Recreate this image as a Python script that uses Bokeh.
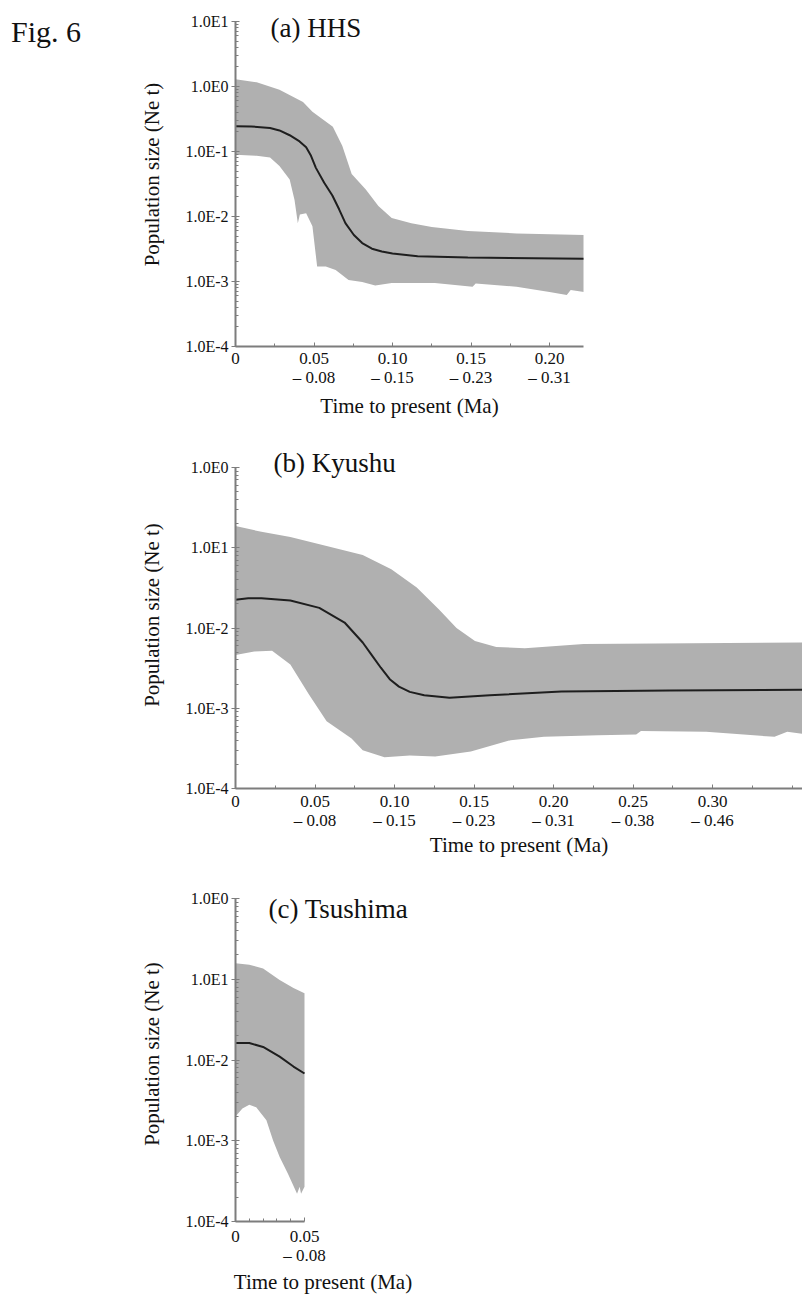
import numpy as np
from bokeh.plotting import figure
from bokeh.layouts import column, row
from bokeh.models import FixedTicker, Label, Div
from bokeh.embed import file_html
from bokeh.resources import INLINE

FONT = "Liberation Serif"

# ---------------- data ----------------
# (a) HHS
hhs_upper_t = [0.0, 0.0135, 0.028, 0.043, 0.049, 0.062, 0.068, 0.074, 0.083, 0.091, 0.0995, 0.112, 0.125, 0.148, 0.179, 0.222]
hhs_upper = [1.29, 1.16, 0.89, 0.58, 0.41, 0.24, 0.123, 0.045, 0.026, 0.0145, 0.0095, 0.0079, 0.0069, 0.0060, 0.0055, 0.0052]
hhs_lower_t = [0.0, 0.0135, 0.022, 0.028, 0.0345, 0.0376, 0.0397, 0.041, 0.045, 0.049, 0.052, 0.0575, 0.0638, 0.072, 0.0807, 0.089, 0.0995, 0.127, 0.151, 0.153, 0.179, 0.200, 0.211, 0.2135, 0.222]
hhs_lower = [0.089, 0.086, 0.081, 0.060, 0.037, 0.018, 0.0079, 0.0107, 0.0112, 0.0071, 0.0017, 0.0017, 0.0015, 0.00105, 0.00098, 0.00087, 0.00095, 0.00095, 0.00083, 0.00093, 0.00083, 0.00069, 0.00062, 0.00074, 0.00069]
hhs_median_t = [0.0, 0.010, 0.022, 0.028, 0.0345, 0.0408, 0.045, 0.0481, 0.0512, 0.0565, 0.0617, 0.066, 0.070, 0.0754, 0.0807, 0.0869, 0.0932, 0.10, 0.116, 0.148, 0.222]
hhs_median = [0.245, 0.243, 0.23, 0.211, 0.178, 0.143, 0.116, 0.086, 0.056, 0.033, 0.021, 0.0129, 0.0079, 0.0052, 0.0039, 0.0032, 0.0029, 0.0027, 0.00245, 0.00234, 0.00224]

# (b) Kyushu
kyu_upper_t = [0.0, 0.0163, 0.0345, 0.0573, 0.080, 0.098, 0.114, 0.128, 0.139, 0.1506, 0.164, 0.182, 0.219, 0.357]
kyu_upper = [0.186, 0.158, 0.136, 0.105, 0.081, 0.054, 0.032, 0.017, 0.010, 0.0069, 0.0058, 0.0056, 0.0063, 0.0066]
kyu_lower_t = [0.0, 0.0118, 0.023, 0.0345, 0.046, 0.0573, 0.073, 0.080, 0.0937, 0.1096, 0.1256, 0.148, 0.173, 0.194, 0.228, 0.252, 0.255, 0.296, 0.339, 0.347, 0.357]
kyu_lower = [0.0046, 0.0051, 0.0052, 0.0035, 0.0015, 0.00069, 0.00042, 0.00030, 0.000245, 0.000257, 0.00025, 0.00029, 0.00040, 0.00044, 0.00046, 0.00047, 0.00052, 0.00051, 0.00044, 0.00051, 0.00048]
kyu_median_t = [0.0, 0.008, 0.0163, 0.0345, 0.0527, 0.0686, 0.080, 0.0857, 0.0914, 0.097, 0.1028, 0.1096, 0.1187, 0.1346, 0.160, 0.205, 0.273, 0.357]
kyu_median = [0.0225, 0.0235, 0.0235, 0.022, 0.0178, 0.0117, 0.0066, 0.0046, 0.0032, 0.0023, 0.00186, 0.0016, 0.00145, 0.00135, 0.00145, 0.00162, 0.00166, 0.0017]

# (c) Tsushima
tsu_upper_t = [0.0, 0.010, 0.020, 0.032, 0.042, 0.05]
tsu_upper = [0.158, 0.151, 0.136, 0.098, 0.078, 0.067]
tsu_lower_t = [0.0, 0.005, 0.010, 0.015, 0.0224, 0.0273, 0.032, 0.038, 0.0446, 0.0465, 0.0475, 0.05]
tsu_lower = [0.0020, 0.0025, 0.0028, 0.0026, 0.0018, 0.0010, 0.00063, 0.00039, 0.00022, 0.00027, 0.00022, 0.00027]
tsu_median_t = [0.0, 0.010, 0.020, 0.032, 0.042, 0.05]
tsu_median = [0.0162, 0.0162, 0.0145, 0.011, 0.0083, 0.0068]

# tick labels
x_major = [0.0, 0.05, 0.10, 0.15, 0.20, 0.25, 0.30]
x_labels = ["0", "0.05\n\u2013 0.08", "0.10\n\u2013 0.15", "0.15\n\u2013 0.23",
            "0.20\n\u2013 0.31", "0.25\n\u2013 0.38", "0.30\n\u2013 0.46"]
y_major_a = [1e-4, 1e-3, 1e-2, 1e-1, 1.0, 10.0]
y_labels_a = ["1.0E-4", "1.0E-3", "1.0E-2", "1.0E-1", "1.0E0", "1.0E1"]
y_major_bc = [1e-4, 1e-3, 1e-2, 1e-1, 1.0]
y_labels_bc = ["1.0E-4", "1.0E-3", "1.0E-2", "1.0E1", "1.0E0"]

AXIS_COL = "#7d7d7d"
BAND_COL = "#b0b0b0"
LINE_COL = "#1e1e1e"
TXT_COL = "#111111"
LEFT = 235  # common left edge of all plot frames


def make_panel(up_t, up, lo_t, lo, med_t, med, px_per_unit, fw,
               y_axis_top, top_pad_px, px_per_dec, y_major, y_labels,
               n_xmaj, x_axis_end, minor_step, fh, left, right, top, bottom,
               title, title_xy, lab_standoff, axlab_standoff):
    x_end = fw / px_per_unit
    y_end = 10 ** (np.log10(y_axis_top) + top_pad_px / px_per_dec)
    p = figure(frame_width=fw, frame_height=fh, y_axis_type="log",
               x_range=(0, x_end), y_range=(1e-4, y_end),
               output_backend="svg", toolbar_location=None,
               min_border_left=left, min_border_right=right,
               min_border_top=top, min_border_bottom=bottom,
               background_fill_color="white", border_fill_color="white")
    p.outline_line_color = None
    p.grid.visible = False

    xs = list(up_t) + list(lo_t)[::-1]
    ys = list(up) + list(lo)[::-1]
    p.patch(xs, ys, fill_color=BAND_COL, line_color=None)
    p.line(med_t, med, line_color=LINE_COL, line_width=2)

    # x axis
    xm = x_major[:n_xmaj]
    xminor = [float(v) for v in np.arange(0, x_axis_end + 1e-9, minor_step)
              if all(abs(v - m) > 1e-6 for m in xm)]
    p.xaxis.ticker = FixedTicker(ticks=xm, minor_ticks=xminor)
    p.xaxis.major_label_overrides = {xm[i]: x_labels[i] for i in range(n_xmaj)}
    p.xaxis.axis_label = "Time to present (Ma)"
    p.xaxis.bounds = (0, x_axis_end)
    # y axis
    yminor = [float(k * 10.0 ** e) for e in range(-4, 1) for k in range(2, 10)
              if k * 10.0 ** e < y_axis_top]
    p.yaxis.ticker = FixedTicker(ticks=y_major, minor_ticks=yminor)
    p.yaxis.major_label_overrides = {y_major[i]: y_labels[i] for i in range(len(y_major))}
    p.yaxis.axis_label = "Population size (Ne t)"
    p.yaxis.bounds = (1e-4, y_axis_top)

    for ax in (p.xaxis[0], p.yaxis[0]):
        ax.axis_line_color = AXIS_COL
        ax.axis_line_width = 2
        ax.major_tick_line_color = AXIS_COL
        ax.minor_tick_line_color = AXIS_COL
        ax.major_label_text_font = FONT
        ax.major_label_text_color = TXT_COL
        ax.axis_label_text_font = FONT
        ax.axis_label_text_font_size = "21px"
        ax.axis_label_text_font_style = "normal"
        ax.axis_label_text_color = TXT_COL
    p.xaxis.major_label_text_font_size = "17px"
    p.xaxis.major_label_text_line_height = 1.0
    p.yaxis.major_label_text_font_size = "16px"
    p.xaxis.major_tick_in = 4
    p.xaxis.major_tick_out = 0
    p.xaxis.minor_tick_in = 3
    p.xaxis.minor_tick_out = 0
    p.xaxis.major_label_standoff = lab_standoff
    p.xaxis.axis_label_standoff = axlab_standoff
    p.yaxis.major_tick_in = 4
    p.yaxis.major_tick_out = 4
    p.yaxis.minor_tick_in = 3
    p.yaxis.minor_tick_out = 0
    p.yaxis.major_label_standoff = 3
    p.yaxis.axis_label_standoff = 18

    p.add_layout(Label(x=title_xy[0], y=title_xy[1], x_units="screen", y_units="screen",
                       text=title, text_font=FONT, text_font_size="27px",
                       text_color=TXT_COL, text_baseline="alphabetic"))
    return p


FIG_W = 100
pa = make_panel(hhs_upper_t, hhs_upper, hhs_lower_t, hhs_lower, hhs_median_t, hhs_median,
                1570, 348, 10.0, 19, 65, y_major_a, y_labels_a, 5, 0.2217, 0.025,
                344, LEFT - FIG_W, 10, 2, 92, "(a) HHS", (35, 319), 2, 4)

pb = make_panel(kyu_upper_t, kyu_upper, kyu_lower_t, kyu_lower, kyu_median_t, kyu_median,
                1590, 567, 1.0, 26, 80.25, y_major_bc, y_labels_bc, 7, 0.3566, 0.025,
                347, LEFT, 0, 3, 82, "(b) Kyushu", (38, 326), 3, 0)

pc = make_panel(tsu_upper_t, tsu_upper, tsu_lower_t, tsu_lower, tsu_median_t, tsu_median,
                1380, 175, 1.0, 12, 80.75, y_major_bc, y_labels_bc, 2, 0.05, 0.01,
                335, LEFT, 10, 16, 74, "(c) Tsushima", (33, 313), 5, 2)

fig_label = Div(text="<div style=\"font-family:'Liberation Serif';font-size:30px;color:#111111;"
                     "margin:0;padding:15px 0 0 11px;line-height:1.15;white-space:nowrap\">Fig. 6</div>",
                width=FIG_W, height=60, margin=(0, 0, 0, 0))

layout = column(row(fig_label, pa), pb, pc)
open("out.html", "w").write(file_html(layout, INLINE))
